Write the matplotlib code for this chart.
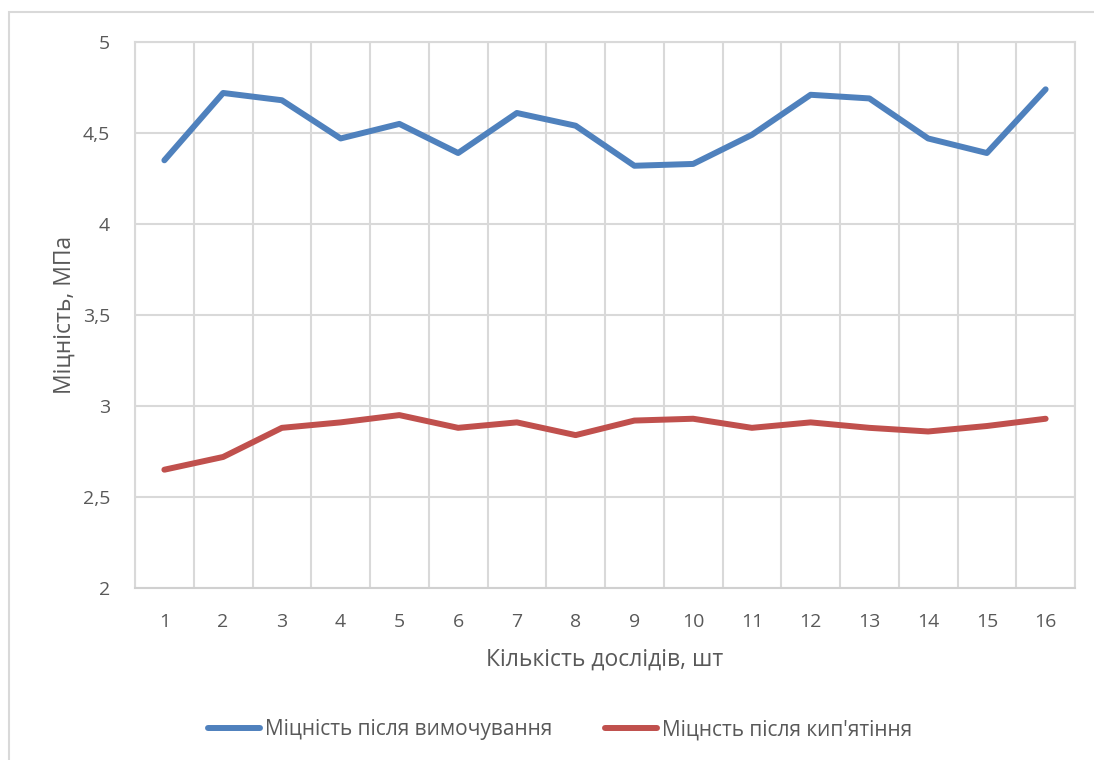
import matplotlib
matplotlib.use("Agg")
import matplotlib.pyplot as plt
from matplotlib.patches import Rectangle

plt.rcParams['font.family'] = ['Open Sans', 'DejaVu Sans']

# номери дослідів і міцність, МПа
experiments = list(range(1, 17))
soaked = [4.35, 4.72, 4.68, 4.47, 4.55, 4.39, 4.61, 4.54,
          4.32, 4.33, 4.49, 4.71, 4.69, 4.47, 4.39, 4.74]
boiled = [2.65, 2.72, 2.88, 2.91, 2.95, 2.88, 2.91, 2.84,
          2.92, 2.93, 2.88, 2.91, 2.88, 2.86, 2.89, 2.93]
y_ticks = [2, 2.5, 3, 3.5, 4, 4.5, 5]
y_labels = ['2', '2,5', '3', '3,5', '4', '4,5', '5']

W, H = 1094, 760
fig = plt.figure(figsize=(W / 100, H / 100), dpi=100)
fig.patch.set_facecolor('white')

# рамка області діаграми
fig.patches.append(Rectangle((9 / W, -0.1), 1.2, 1 - 12 / H + 0.1,
                             transform=fig.transFigure, fill=False,
                             edgecolor='#d9d9d9', linewidth=1.5))

left, right, top, bottom = 135, 1075, 42, 588
ax = fig.add_axes([left / W, 1 - bottom / H, (right - left) / W, (bottom - top) / H])

grid = '#d9d9d9'
text_col = '#595959'
ax.plot(experiments, soaked, color='#4f81bd', linewidth=4.3,
        solid_capstyle='round', solid_joinstyle='round',
        label='Міцність після вимочування', zorder=3)
ax.plot(experiments, boiled, color='#c0504d', linewidth=4.3,
        solid_capstyle='round', solid_joinstyle='round',
        label="Міцнсть після кип'ятіння", zorder=3)

ax.set_xlim(0.5, 16.5)
ax.set_ylim(2, 5)
ax.set_yticks(y_ticks)
ax.set_yticklabels(y_labels)
ax.set_xticks(experiments)
ax.set_xticks([i + 0.5 for i in range(0, 17)], minor=True)
ax.grid(True, which='major', axis='y', color=grid, linewidth=1.5)
ax.grid(True, which='minor', axis='x', color=grid, linewidth=1.5)
ax.tick_params(which='both', length=0)
ax.tick_params(axis='x', pad=18, labelsize=14, labelcolor=text_col)
ax.tick_params(axis='y', pad=18, labelsize=14, labelcolor=text_col)
for side in ax.spines.values():
    side.set_color(grid)
    side.set_linewidth(1.5)
ax.spines['bottom'].set_color('#d0d0d0')

ax.set_xlabel('Кількість дослідів, шт', fontsize=16.5, color=text_col, labelpad=12)
ax.set_ylabel('Міцність, МПа', fontsize=16.5, color=text_col, labelpad=4)

fig.legend(*ax.get_legend_handles_labels(), loc='center',
           bbox_to_anchor=(560 / W, 1 - 730 / H), bbox_transform=fig.transFigure,
           ncol=2, frameon=False, fontsize=15, labelcolor=text_col,
           handlelength=2.5, handletextpad=0.25, columnspacing=2.5)

fig.savefig('out.png', dpi=100, facecolor='white')
